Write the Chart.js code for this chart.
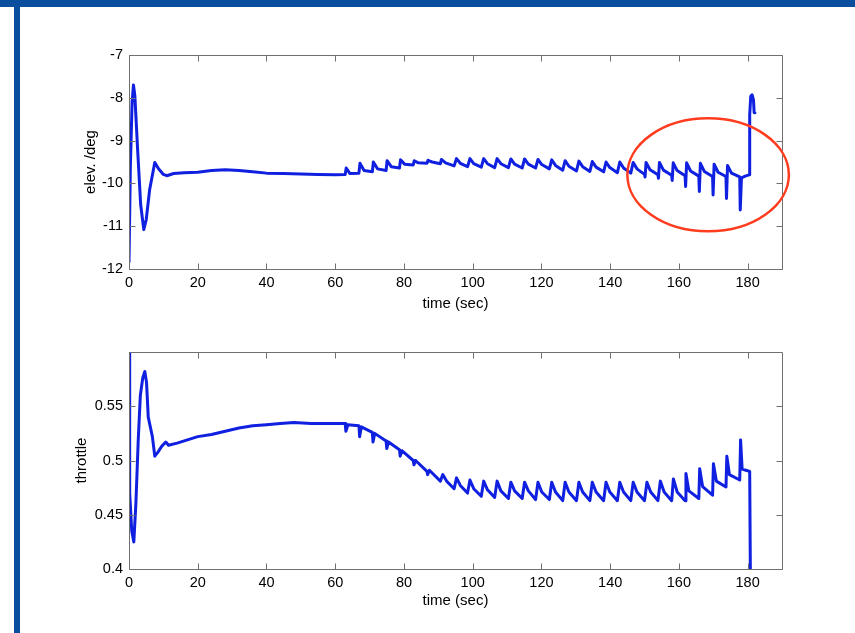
<!DOCTYPE html>
<html>
<head>
<meta charset="utf-8">
<script src="https://cdn.jsdelivr.net/npm/chart.js@4.4.1/dist/chart.umd.min.js"></script>
<style>
  html, body { margin: 0; padding: 0; background: #fff; }
  body { width: 855px; height: 633px; position: relative; overflow: hidden; }
  canvas { position: absolute; left: 0; }
  #elev { top: 0; }
  #throttle { top: 330px; }
  .bar-top { position: absolute; left: 0; top: 0; width: 855px; height: 7px; background: #0a4f9e; }
  .bar-left { position: absolute; left: 14px; top: 7px; width: 6px; height: 626px; background: #0a4f9e; }
</style>
</head>
<body>
<canvas id="elev" width="855" height="330"></canvas>
<canvas id="throttle" width="855" height="303"></canvas>
<div class="bar-top"></div>
<div class="bar-left"></div>
<script>
// tick labels
const timeTicks = [0, 20, 40, 60, 80, 100, 120, 140, 160, 180]
const elevTicks = [-12, -11, -10, -9, -8, -7]
const throttleTicks = [0.4, 0.45, 0.5, 0.55]

// elevator deflection (deg) vs time (sec)
const elevTime = [
  0, 0.4, 0.9, 1.3, 1.7, 2.5, 3.4, 4.3, 5.0, 6.0, 7.5, 8.6, 10.0, 11.0, 13.0, 16.0, 20.0, 24.0, 28.0, 32.0,
  36.0, 40.0, 45.0, 50.0, 55.0, 60.0, 62.9,
  63.2, 64.3, 66.9, 67.2, 68.4, 70.8, 71.1, 72.3, 74.8, 75.1, 76.3, 78.7, 79.0, 80.2, 82.7, 83.0, 84.2, 86.7,
  87.0, 88.2, 90.6, 90.9, 92.1, 94.6,
  95.3, 96.4, 98.5, 99.2, 100.3, 102.5, 103.2, 104.3, 106.4, 107.1, 108.2, 110.4, 111.1, 112.2, 114.4,
  115.1, 116.2, 118.3, 119.0, 120.1, 122.3, 123.0, 124.1, 126.2, 126.9, 128.0, 130.2, 130.9, 132.0, 134.1,
  134.8, 135.9, 138.1, 138.8, 139.9, 142.1, 142.8, 143.9, 146.0, 146.7, 147.8, 150.0,
  150.15, 150.45, 151.6, 153.9, 154.05, 154.35, 155.5, 157.9, 158.05, 158.35, 159.5, 161.8,
  161.95, 162.25, 163.4, 165.8, 165.95, 166.25, 167.4, 169.8, 169.95, 170.25, 171.4, 173.7,
  173.85, 174.15, 175.3, 177.7, 177.85, 178.2, 179.3, 180.4,
  180.6, 180.9, 181.3, 181.7, 181.9, 182.1
]
const elevDeg = [
  -11.85, -9.6, -8.1, -7.7, -7.95, -9.2, -10.5, -11.08, -10.85, -10.15, -9.51, -9.66, -9.79, -9.82, -9.77, -9.75, -9.74, -9.70, -9.68, -9.70,
  -9.73, -9.76, -9.77, -9.78, -9.79, -9.80, -9.79,
  -9.64, -9.77, -9.76, -9.53, -9.70, -9.73, -9.50, -9.66, -9.70, -9.47, -9.61, -9.64, -9.45, -9.55, -9.57, -9.47, -9.52, -9.53,
  -9.46, -9.50, -9.54, -9.44, -9.52, -9.59,
  -9.42, -9.53, -9.61, -9.42, -9.54, -9.62, -9.42, -9.54, -9.63, -9.42, -9.54, -9.63, -9.43, -9.55, -9.64,
  -9.43, -9.55, -9.64, -9.44, -9.56, -9.66, -9.45, -9.58, -9.69, -9.47, -9.60, -9.71, -9.48, -9.61, -9.72,
  -9.49, -9.62, -9.73, -9.50, -9.63, -9.75, -9.50, -9.64, -9.76, -9.51, -9.66, -9.79,
  -9.85, -9.51, -9.68, -9.80, -9.88, -9.51, -9.69, -9.81, -9.93, -9.52, -9.70, -9.82,
  -10.07, -9.52, -9.71, -9.83, -10.19, -9.53, -9.72, -9.84, -10.27, -9.55, -9.74, -9.84,
  -10.35, -9.58, -9.76, -9.85, -10.62, -9.87, -9.83, -9.80,
  -8.40, -7.97, -7.93, -8.05, -8.35, -8.33
]

// throttle vs time (sec)
const throttleTime = [
  0, 0.2, 0.8, 1.4, 2.0, 2.7, 3.3, 4.0, 4.6, 5.1, 5.6, 6.8, 7.5, 8.5, 9.5, 10.7, 11.5, 14.0, 17.0, 20.0,
  24.0, 28.0, 32.0, 36.0, 40.0, 44.0, 48.0, 53.0, 58.0, 62.9,
  63.1, 63.7, 66.9, 67.1, 67.6, 70.8, 71.0, 71.5, 74.8, 75.0, 75.5, 78.7, 78.9, 79.4, 82.7, 82.9, 83.4, 86.7,
  86.9, 87.4, 90.6,
  91.3, 92.4, 94.6, 95.3, 96.4, 98.5, 99.2, 100.3, 102.5, 103.2, 104.3, 106.4, 107.1, 108.2, 110.4,
  111.1, 112.2, 114.4, 115.1, 116.2, 118.3, 119.0, 120.1, 122.3, 123.0, 124.1, 126.2, 126.9, 128.0, 130.2,
  130.9, 132.0, 134.1, 134.8, 135.9, 138.1, 138.8, 139.9, 142.1, 142.8, 143.9, 146.0, 146.7, 147.8, 150.0,
  150.7, 151.8, 153.9, 154.6, 155.7, 157.9, 158.4, 159.5, 161.8,
  162.05, 162.9, 165.8, 166.05, 166.9, 169.8, 170.05, 170.9, 173.7, 173.95, 174.7, 177.7,
  177.95, 178.4, 179.5, 180.6, 180.8
]
const throttleVal = [
  0.61, 0.47, 0.435, 0.425, 0.46, 0.52, 0.56, 0.576, 0.582, 0.572, 0.54, 0.522, 0.504, 0.508, 0.513, 0.517, 0.514, 0.516, 0.519, 0.522,
  0.524, 0.527, 0.530, 0.532, 0.533, 0.534, 0.535, 0.534, 0.534, 0.534,
  0.527, 0.533, 0.532, 0.522, 0.531, 0.526, 0.517, 0.525, 0.518, 0.511, 0.517, 0.510, 0.504, 0.509, 0.500, 0.496, 0.500, 0.490,
  0.487, 0.491, 0.481,
  0.487, 0.481, 0.474, 0.484, 0.477, 0.470, 0.482, 0.474, 0.467, 0.481, 0.473, 0.466, 0.481, 0.472, 0.465,
  0.480, 0.472, 0.465, 0.480, 0.472, 0.464, 0.480, 0.471, 0.464, 0.480, 0.471, 0.463, 0.480, 0.471, 0.463,
  0.480, 0.471, 0.463, 0.480, 0.471, 0.463, 0.480, 0.471, 0.463, 0.480, 0.471, 0.463, 0.480, 0.471, 0.463,
  0.480, 0.471, 0.463, 0.481, 0.471, 0.463, 0.483, 0.471, 0.463,
  0.488, 0.472, 0.465, 0.4925, 0.476, 0.468, 0.497, 0.481, 0.4756, 0.504, 0.487, 0.482,
  0.519, 0.492, 0.491, 0.490, 0.395
]

// red ellipse drawn round the end of the elevator trace (data units)
const markCenter = [168.5, -9.80]
const markRadius = [23.5, 1.32]

const LINE_BLUE = '#1020e0'
const AXIS_GREY = '#707070'
const FONT = "'Liberation Sans', Arial, sans-serif"
const TICK_LEN = 6

const crisp = v => Math.round(v) + 0.5

// matlab style box with inward ticks on all four sides
const boxTicks = {
  id: 'boxTicks',
  afterDraw(chart) {
    const { ctx, chartArea: a, scales: { x, y } } = chart
    const l = crisp(a.left), r = crisp(a.right), t = crisp(a.top), b = crisp(a.bottom)
    ctx.save()
    ctx.strokeStyle = AXIS_GREY
    ctx.lineWidth = 1
    ctx.beginPath()
    ctx.rect(l, t, r - l, b - t)
    x.ticks.forEach(tk => {
      const px = crisp(x.getPixelForValue(tk.value))
      ctx.moveTo(px, b); ctx.lineTo(px, b - TICK_LEN)
      ctx.moveTo(px, t); ctx.lineTo(px, t + TICK_LEN)
    })
    y.ticks.forEach(tk => {
      const py = crisp(y.getPixelForValue(tk.value))
      ctx.moveTo(l, py); ctx.lineTo(l + TICK_LEN, py)
      ctx.moveTo(r, py); ctx.lineTo(r - TICK_LEN, py)
    })
    ctx.stroke()
    ctx.restore()
  }
}

const ellipseMark = {
  id: 'ellipseMark',
  afterDraw(chart) {
    const { ctx, scales: { x, y } } = chart
    const cx = x.getPixelForValue(markCenter[0])
    const cy = y.getPixelForValue(markCenter[1])
    const rx = x.getPixelForValue(markCenter[0] + markRadius[0]) - cx
    const ry = cy - y.getPixelForValue(markCenter[1] + markRadius[1])
    ctx.save()
    ctx.strokeStyle = '#ff3c1e'
    ctx.lineWidth = 2.5
    ctx.beginPath()
    ctx.ellipse(cx, cy, rx, ry, 0, 0, Math.PI * 2)
    ctx.stroke()
    ctx.restore()
  }
}

function makePlot(id, times, values, yTicks, yMin, yMax, yLabel, pad, yWidth, xHeight, extraPlugins) {
  return new Chart(document.getElementById(id), {
    type: 'line',
    data: {
      datasets: [{
        data: times.map((t, i) => ({ x: t, y: values[i] })),
        borderColor: LINE_BLUE,
        borderWidth: 3,
        pointRadius: 0,
        tension: 0,
        borderJoinStyle: 'round'
      }]
    },
    options: {
      responsive: false,
      animation: false,
      layout: { padding: pad },
      plugins: { legend: { display: false }, tooltip: { enabled: false } },
      scales: {
        x: {
          type: 'linear',
          min: 0,
          max: 190,
          grid: { display: false, drawTicks: false },
          border: { display: false },
          afterBuildTicks: s => { s.ticks = timeTicks.map(v => ({ value: v })) },
          afterFit: s => { s.height = xHeight },
          ticks: { color: '#000', padding: 5, maxRotation: 0, font: { family: FONT, size: 14.5 }, callback: v => String(v) },
          title: { display: true, text: 'time (sec)', color: '#000', padding: 0, font: { family: FONT, size: 15 } }
        },
        y: {
          min: yMin,
          max: yMax,
          grid: { display: false, drawTicks: false },
          border: { display: false },
          afterBuildTicks: s => { s.ticks = yTicks.map(v => ({ value: v })) },
          afterFit: s => { s.width = yWidth },
          ticks: { color: '#000', padding: 6, font: { family: FONT, size: 14.5 }, callback: v => String(v) },
          title: { display: true, text: yLabel, color: '#000', padding: 0, font: { family: FONT, size: 15 } }
        }
      }
    },
    plugins: [boxTicks].concat(extraPlugins)
  })
}

makePlot('elev', elevTime, elevDeg, elevTicks, -12, -7, 'elev. /deg',
  { left: 82, top: 55, right: 73, bottom: 17 }, 47, 44, [ellipseMark])

makePlot('throttle', throttleTime, throttleVal, throttleTicks, 0.4, 0.6, 'throttle',
  { left: 73, top: 22, right: 73, bottom: 23 }, 56, 41, [])
</script>
</body>
</html>
